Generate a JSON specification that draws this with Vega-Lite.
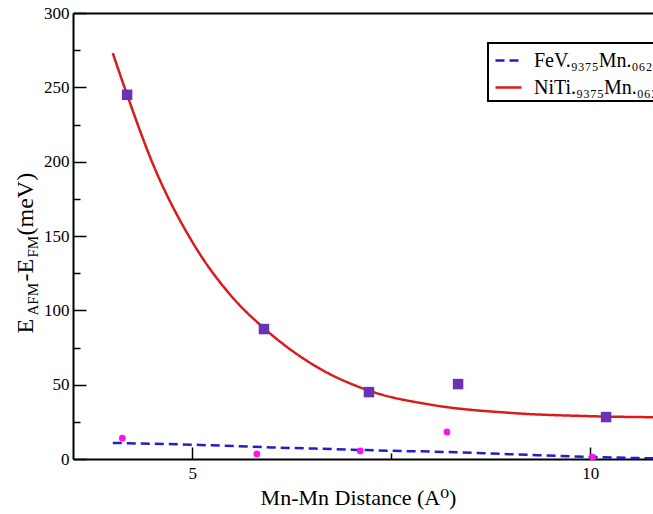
{
  "$schema": "https://vega.github.io/schema/vega-lite/v6.json",
  "autosize": {"type": "none"},
  "padding": {"left": 73, "top": 13, "right": 0, "bottom": 55},
  "width": 580,
  "height": 446,
  "background": "white",
  "view": {"stroke": null},
  "config": {
    "font": "'Liberation Serif', 'DejaVu Serif', serif",
    "legend": {"strokeWidth": 2},
    "axis": {
      "grid": false,
      "domainColor": "black",
      "domainWidth": 2,
      "tickColor": "black",
      "tickWidth": 1.5,
      "labelFont": "'Liberation Serif', 'DejaVu Serif', serif",
      "labelFontSize": 17,
      "labelColor": "black",
      "titleFont": "'Liberation Serif', 'DejaVu Serif', serif",
      "titleFontWeight": "normal",
      "titleColor": "black"
    }
  },
  "datasets": {
    "lines": [
      {"series": "FeV.₉₃₇₅Mn.₀₆₂₅Sb", "x": 4.0, "y": 10.8},
      {"series": "FeV.₉₃₇₅Mn.₀₆₂₅Sb", "x": 5.0, "y": 9.6},
      {"series": "FeV.₉₃₇₅Mn.₀₆₂₅Sb", "x": 6.0, "y": 7.8},
      {"series": "FeV.₉₃₇₅Mn.₀₆₂₅Sb", "x": 7.0, "y": 6.3},
      {"series": "FeV.₉₃₇₅Mn.₀₆₂₅Sb", "x": 7.5, "y": 5.5},
      {"series": "FeV.₉₃₇₅Mn.₀₆₂₅Sb", "x": 8.0, "y": 5.0},
      {"series": "FeV.₉₃₇₅Mn.₀₆₂₅Sb", "x": 9.0, "y": 3.2},
      {"series": "FeV.₉₃₇₅Mn.₀₆₂₅Sb", "x": 10.0, "y": 1.4},
      {"series": "FeV.₉₃₇₅Mn.₀₆₂₅Sb", "x": 11.0, "y": 0.3},
      {"series": "FeV.₉₃₇₅Mn.₀₆₂₅Sb", "x": 12.0, "y": 0.0},
      {"series": "NiTi.₉₃₇₅Mn.₀₆₂₅Sn", "x": 4.0, "y": 273},
      {"series": "NiTi.₉₃₇₅Mn.₀₆₂₅Sn", "x": 4.18, "y": 245},
      {"series": "NiTi.₉₃₇₅Mn.₀₆₂₅Sn", "x": 4.5, "y": 199},
      {"series": "NiTi.₉₃₇₅Mn.₀₆₂₅Sn", "x": 5.0, "y": 146},
      {"series": "NiTi.₉₃₇₅Mn.₀₆₂₅Sn", "x": 5.5, "y": 109},
      {"series": "NiTi.₉₃₇₅Mn.₀₆₂₅Sn", "x": 5.9, "y": 88},
      {"series": "NiTi.₉₃₇₅Mn.₀₆₂₅Sn", "x": 6.5, "y": 64},
      {"series": "NiTi.₉₃₇₅Mn.₀₆₂₅Sn", "x": 7.22, "y": 46},
      {"series": "NiTi.₉₃₇₅Mn.₀₆₂₅Sn", "x": 8.0, "y": 36.5},
      {"series": "NiTi.₉₃₇₅Mn.₀₆₂₅Sn", "x": 9.0, "y": 31},
      {"series": "NiTi.₉₃₇₅Mn.₀₆₂₅Sn", "x": 10.0, "y": 28.8},
      {"series": "NiTi.₉₃₇₅Mn.₀₆₂₅Sn", "x": 11.0, "y": 28},
      {"series": "NiTi.₉₃₇₅Mn.₀₆₂₅Sn", "x": 12.0, "y": 27.7}
    ],
    "squares": [
      {"x": 4.18, "y": 245},
      {"x": 5.9, "y": 87.4},
      {"x": 7.22, "y": 45},
      {"x": 8.34, "y": 50.4},
      {"x": 10.2, "y": 28.2}
    ],
    "stars": [
      {"x": 4.12, "y": 14},
      {"x": 5.81, "y": 3.4},
      {"x": 7.11, "y": 5.4},
      {"x": 8.2, "y": 18.2},
      {"x": 10.03, "y": 1.3}
    ]
  },
  "resolve": {"axis": {"x": "independent", "y": "independent"}},
  "layer": [
    {
      "data": {"name": "lines"},
      "mark": {"type": "line", "strokeWidth": 2.5, "clip": true, "interpolate": "monotone"},
      "encoding": {
        "x": {"field": "x", "type": "quantitative",
          "scale": {"domain": [3.5, 10.79], "nice": false, "zero": false},
          "axis": {"orient": "bottom", "values": [5, 10], "tickSize": -12, "labelPadding": 18,
            "title": "Mn-Mn Distance (A⁰)", "titleFontSize": 22, "titleX": 285, "titleY": 45,
            "titleAlign": "center", "titleBaseline": "alphabetic"}},
        "y": {"field": "y", "type": "quantitative",
          "scale": {"domain": [0, 300], "nice": false},
          "axis": {"orient": "left", "values": [0, 50, 100, 150, 200, 250, 300], "tickSize": -13, "labelPadding": 17, "title": null}},
        "color": {"field": "series", "type": "nominal",
          "scale": {"domain": ["FeV.₉₃₇₅Mn.₀₆₂₅Sb", "NiTi.₉₃₇₅Mn.₀₆₂₅Sn"], "range": ["#1f1fcc", "#dd1a1a"]},
          "legend": {"orient": "none", "legendX": 415, "legendY": 30, "title": null,
            "strokeColor": "black", "fillColor": "white", "padding": 3,
            "symbolType": "stroke", "symbolSize": 676, "symbolStrokeWidth": 2.5, "symbolOffset": 3,
            "labelFont": "'Liberation Serif', 'DejaVu Serif', serif", "labelFontSize": 20, "labelColor": "black",
            "labelOffset": 11, "rowPadding": 2, "labelLimit": 400}},
        "strokeDash": {"field": "series", "type": "nominal",
          "scale": {"domain": ["FeV.₉₃₇₅Mn.₀₆₂₅Sb", "NiTi.₉₃₇₅Mn.₀₆₂₅Sn"], "range": [[9, 5], [1, 0]]},
          "legend": {"orient": "none", "legendX": 415, "legendY": 30, "title": null,
            "strokeColor": "black", "fillColor": "white", "padding": 3,
            "symbolType": "stroke", "symbolSize": 676, "symbolStrokeWidth": 2.5, "symbolOffset": 3,
            "labelFont": "'Liberation Serif', 'DejaVu Serif', serif", "labelFontSize": 20, "labelColor": "black",
            "labelOffset": 11, "rowPadding": 2, "labelLimit": 400}}
      }
    },
    {
      "data": {"name": "squares"},
      "mark": {"type": "point", "shape": "square", "filled": true, "size": 110, "color": "#6a32b4", "opacity": 1},
      "encoding": {
        "x": {"field": "x", "type": "quantitative",
          "axis": {"orient": "bottom", "values": [7.5], "tickSize": -6, "labels": false, "domain": false, "title": null}},
        "y": {"field": "y", "type": "quantitative",
          "axis": {"orient": "left", "values": [25, 75, 125, 175, 225, 275], "tickSize": -7, "labels": false, "domain": false, "title": null}}
      }
    },
    {
      "data": {"name": "stars"},
      "mark": {"type": "point", "shape": "circle", "filled": true, "size": 45, "color": "#ff10f0", "opacity": 1},
      "encoding": {
        "x": {"field": "x", "type": "quantitative",
          "axis": {"orient": "top", "domain": true, "ticks": false, "labels": false, "title": null}},
        "y": {"field": "y", "type": "quantitative",
          "axis": {"orient": "left", "domain": false, "ticks": false, "labels": false,
            "title": "E", "titleFontSize": 24, "titleAngle": 270, "titleX": -41, "titleY": 320,
            "titleAlign": "left", "titleBaseline": "alphabetic"}}
      }
    },
    {
      "data": {"name": "squares"},
      "mark": {"type": "point", "opacity": 0},
      "encoding": {
        "x": {"field": "x", "type": "quantitative", "axis": null},
        "y": {"field": "y", "type": "quantitative",
          "axis": {"orient": "left", "domain": false, "ticks": false, "labels": false,
            "title": "AFM", "titleFontSize": 15, "titleAngle": 270, "titleX": -36, "titleY": 302,
            "titleAlign": "left", "titleBaseline": "alphabetic"}}
      }
    },
    {
      "data": {"name": "squares"},
      "mark": {"type": "point", "opacity": 0},
      "encoding": {
        "x": {"field": "x", "type": "quantitative", "axis": null},
        "y": {"field": "y", "type": "quantitative",
          "axis": {"orient": "left", "domain": false, "ticks": false, "labels": false,
            "title": "-E", "titleFontSize": 24, "titleAngle": 270, "titleX": -41, "titleY": 268,
            "titleAlign": "left", "titleBaseline": "alphabetic"}}
      }
    },
    {
      "data": {"name": "squares"},
      "mark": {"type": "point", "opacity": 0},
      "encoding": {
        "x": {"field": "x", "type": "quantitative", "axis": null},
        "y": {"field": "y", "type": "quantitative",
          "axis": {"orient": "left", "domain": false, "ticks": false, "labels": false,
            "title": "FM", "titleFontSize": 15, "titleAngle": 270, "titleX": -36, "titleY": 244,
            "titleAlign": "left", "titleBaseline": "alphabetic"}}
      }
    },
    {
      "data": {"name": "squares"},
      "mark": {"type": "point", "opacity": 0},
      "encoding": {
        "x": {"field": "x", "type": "quantitative", "axis": null},
        "y": {"field": "y", "type": "quantitative",
          "axis": {"orient": "left", "domain": false, "ticks": false, "labels": false,
            "title": "(meV)", "titleFontSize": 24, "titleAngle": 270, "titleX": -41, "titleY": 222,
            "titleAlign": "left", "titleBaseline": "alphabetic"}}
      }
    }
  ]
}
